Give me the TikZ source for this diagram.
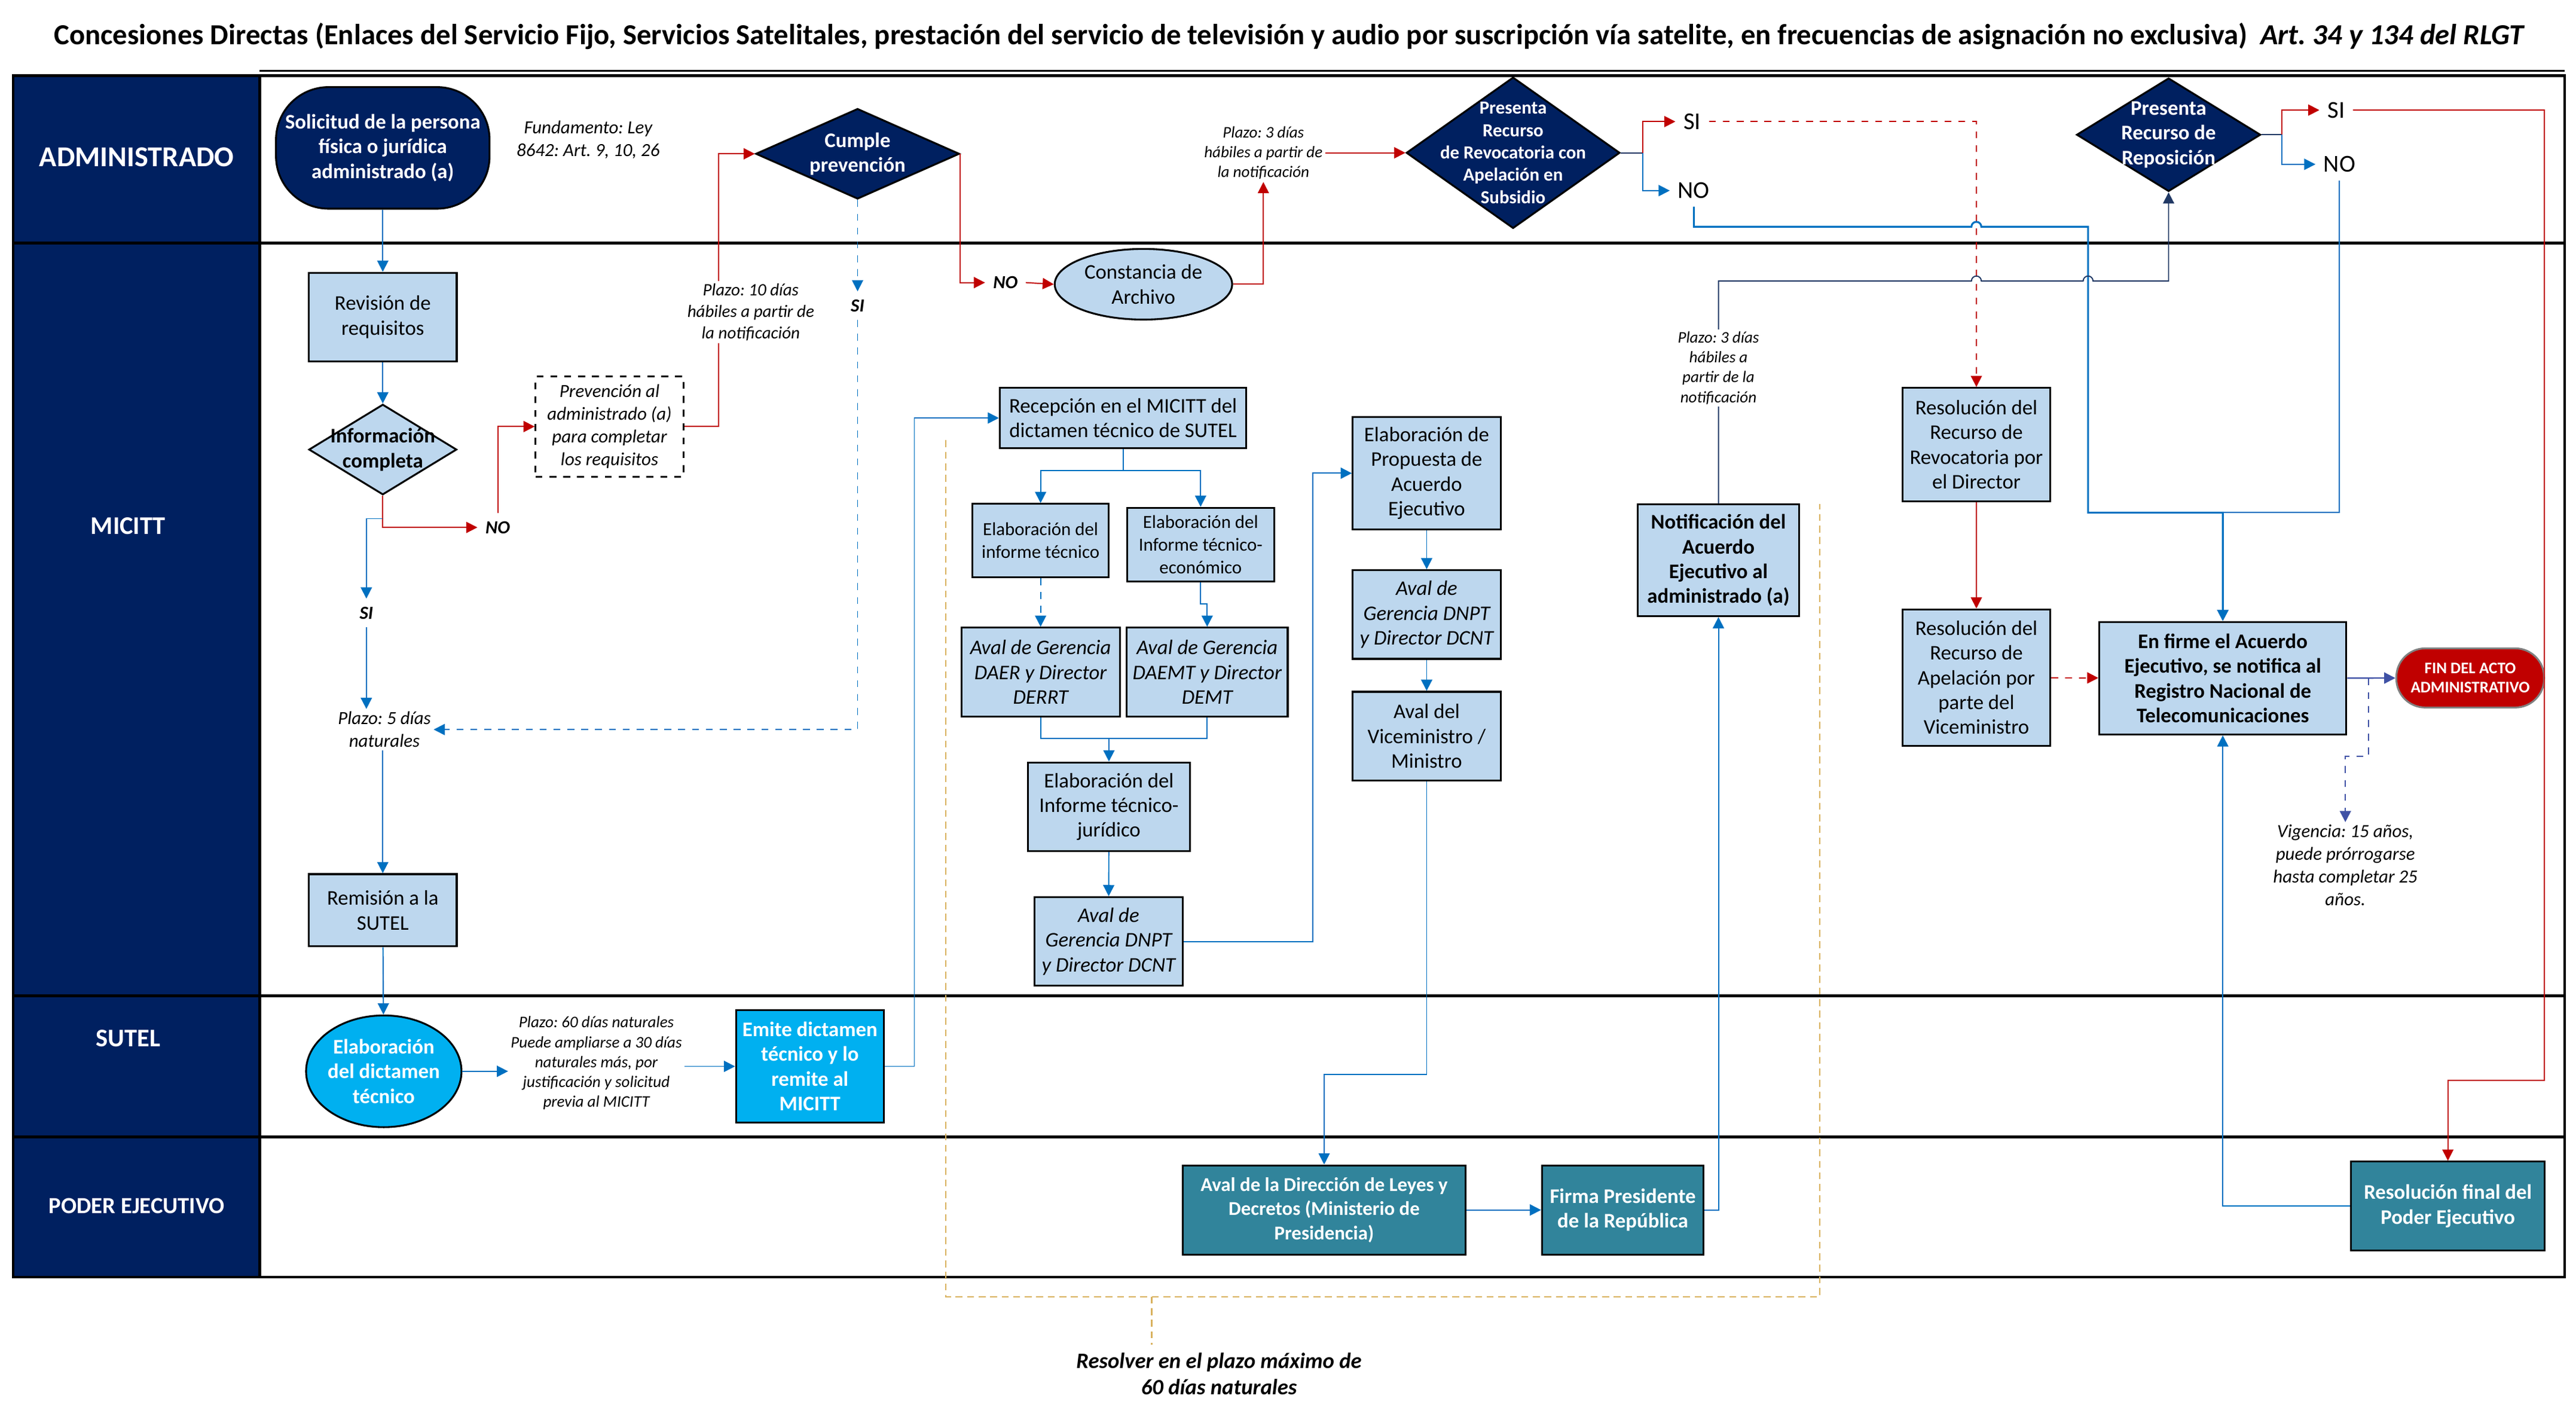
\documentclass[tikz,border=0pt]{standalone}
\usepackage{fontspec}
\setmainfont{Carlito}
\usepackage{xcolor}
\usepackage{tikz}
\usetikzlibrary{arrows.meta}
\usetikzlibrary{shapes}
\usetikzlibrary{positioning}
\frenchspacing
\definecolor{Navy}{HTML}{002060}
\definecolor{LightBlue}{HTML}{BDD7EE}
\definecolor{SkyBlue}{HTML}{00B0F0}
\definecolor{MyTeal}{HTML}{31849B}
\definecolor{LinkBlue}{HTML}{0070C0}
\definecolor{LinkRed}{HTML}{C00000}
\definecolor{DarkLink}{HTML}{203864}
\definecolor{Indigo}{HTML}{3F51A5}
\definecolor{Gold}{HTML}{D9B25F}
\tikzset{
  >={Triangle[length=1.7mm,width=1.7mm]},
  MyBox/.style={
    rectangle, draw=black, thick, fill=LightBlue,
    align=center, inner sep=1pt,
    font=\fontsize{9}{10.7}\selectfont,
  },
  MyBold/.style={MyBox, font=\bfseries\fontsize{9}{10.7}\selectfont},
  MyItalic/.style={MyBox, font=\itshape\fontsize{9}{10.7}\selectfont},
  MyDashBox/.style={MyBox, fill=white, dashed, font=\itshape\fontsize{8}{9.8}\selectfont},
  MyNavyDiamond/.style={diamond, draw=black, thick, fill=Navy, inner sep=0pt},
  MyLightDiamond/.style={diamond, draw=black, thick, fill=LightBlue, inner sep=0pt},
  MyOval/.style={ellipse, draw=black, thick, fill=LightBlue, inner sep=0pt},
  MyNavyText/.style={text=white, align=center, font=\bfseries\fontsize{9}{10.7}\selectfont},
  MyBoldText/.style={align=center, font=\bfseries\fontsize{9}{10.7}\selectfont},
  MyBoxText/.style={align=center, font=\fontsize{9}{10.7}\selectfont},
  MyNote/.style={align=center, fill=white, inner sep=1pt, font=\itshape\fontsize{8}{9.8}\selectfont},
  MySmallNote/.style={MyNote, font=\itshape\fontsize{7}{8.6}\selectfont},
  MyFlag/.style={font=\bfseries\itshape\fontsize{8}{9.6}\selectfont},
  MyAnswer/.style={font=\fontsize{10.5}{12}\selectfont},
  MyLane/.style={text=white, font=\bfseries\fontsize{11}{13}\selectfont},
  MyLink/.style={draw=LinkBlue, line width=0.5pt},
  MyRed/.style={draw=LinkRed, line width=0.5pt},
  MyDark/.style={draw=DarkLink, line width=0.5pt},
  MyIndigo/.style={draw=Indigo, line width=0.6pt},
  MyGold/.style={draw=Gold, line width=0.6pt, dash pattern=on 3pt off 2pt},
}

\begin{document}
\begin{tikzpicture}
\useasboundingbox (0,0) rectangle (39.2,-21.65);
\node[font=\bfseries\fontsize{12.6}{15}\selectfont] (TITLE) at (19.625,-0.55) {Concesiones Directas (Enlaces del Servicio Fijo, Servicios Satelitales, prestación del servicio de televisión y audio por suscripción vía satelite, en frecuencias de asignación no exclusiva)\ \ \textit{Art. 34 y 134 del RLGT}};

\fill[Navy] (0.2,-1.15) rectangle (3.95,-19.43);
\draw[line width=1.2pt] (0.2,-1.15) rectangle (39.025,-19.43);
\draw[line width=0.8pt] (3.95,-1.08) -- (39.025,-1.08);
\foreach \y in {-3.7,-15.15,-17.3} \draw[line width=1.2pt] (0.2,\y) -- (39.025,\y);
\draw[line width=1.2pt] (3.95,-1.15) -- (3.95,-19.43);
\node[MyLane, font=\bfseries\fontsize{12.5}{15}\selectfont] (LaneAdm) at (2.08,-2.39) {ADMINISTRADO};
\node[MyLane] (LaneMic) at (1.95,-8.0) {MICITT};
\node[MyLane] (LaneSut) at (1.95,-15.8) {SUTEL};
\node[MyLane, font=\bfseries\fontsize{10}{12}\selectfont] (LanePod) at (2.08,-18.35) {PODER EJECUTIVO};

\node[MyBold, fill=Navy, text=white, rounded corners=0.8cm, minimum width=3.25cm, minimum height=1.85cm] (SOL) at (5.825,-2.25) {Solicitud de la persona\\física o jurídica\\administrado (a)};
\node[MyNote] (FUND) at (8.95,-2.125) {Fundamento: Ley\\8642: Art. 9, 10, 26};
\node[MyNavyDiamond, minimum width=3.1cm, minimum height=1.375cm, label={[MyNavyText]center:Cumple\\prevención}] (CUMPLE) at (13.05,-2.34) {};
\node[MySmallNote] (PLAZOTRES) at (19.225,-2.325) {Plazo: 3 días\\hábiles a partir de\\la notificación};
\node[MyNavyDiamond, minimum width=3.25cm, minimum height=2.3cm, label={[MyNavyText, font=\bfseries\fontsize{8}{9.7}\selectfont]center:Presenta\\Recurso\\de Revocatoria con\\Apelación en\\Subsidio}] (PRESENTA) at (23.025,-2.325) {};
\node[MyAnswer] (SIUNO) at (25.75,-1.85) {SI};
\node[MyAnswer] (NOUNO) at (25.775,-2.9) {NO};
\node[MyNavyDiamond, minimum width=2.8cm, minimum height=1.725cm, label={[MyNavyText]center:Presenta\\Recurso de\\Reposición}] (REPOS) at (33.0,-2.05) {};
\node[MyAnswer] (SIDOS) at (35.55,-1.675) {SI};
\node[MyAnswer] (NODOS) at (35.6,-2.5) {NO};

\node[MyBox, minimum width=2.25cm, minimum height=1.35cm] (REV) at (5.825,-4.825) {Revisión de\\requisitos};
\node[MyLightDiamond, minimum width=2.25cm, minimum height=1.375cm, label={[MyBoldText]center:Información\\completa}] (INFO) at (5.825,-6.84) {};
\node[MyFlag] (NOINFO) at (7.575,-8.025) {NO};
\node[MyFlag] (SIINFO) at (5.575,-9.325) {SI};
\node[MyNote] (PLAZOCINCO) at (5.85,-11.1) {Plazo: 5 días\\naturales};
\node[MyDashBox, minimum width=2.25cm, minimum height=1.525cm] (PREV) at (9.275,-6.49) {Prevención al\\administrado (a)\\para completar\\los requisitos};
\node[MyFlag] (SICUMPLE) at (13.05,-4.65) {SI};
\node[MyFlag] (NOCUMPLE) at (15.3,-4.3) {NO};
\node[MyOval, minimum width=2.7cm, minimum height=1.075cm, label={[MyBoxText]center:Constancia de\\Archivo}] (CONST) at (17.4,-4.325) {};
\node[MyBox, minimum width=3.75cm, minimum height=0.915cm] (RECEP) at (17.09,-6.36) {Recepción en el MICITT del\\dictamen técnico de SUTEL};
\node[MyBox, font=\fontsize{8}{9.8}\selectfont, minimum width=2.075cm, minimum height=1.115cm] (INFTEC) at (15.835,-8.225) {Elaboración del\\informe técnico};
\node[MyBox, font=\fontsize{8}{9.8}\selectfont, minimum width=2.24cm, minimum height=1.12cm] (INFECO) at (18.27,-8.285) {Elaboración del\\Informe técnico-\\económico};
\node[MyItalic, minimum width=2.41cm, minimum height=1.35cm] (DAER) at (15.835,-10.225) {Aval de Gerencia\\DAER y Director\\DERRT};
\node[MyItalic, minimum width=2.45cm, minimum height=1.35cm] (DAEMT) at (18.37,-10.225) {Aval de Gerencia\\DAEMT y Director\\DEMT};
\node[MyBox, minimum width=2.47cm, minimum height=1.35cm] (INFJUR) at (16.875,-12.275) {Elaboración del\\Informe técnico-\\jurídico};
\node[MyItalic, minimum width=2.25cm, minimum height=1.35cm] (DNPTA) at (16.87,-14.325) {Aval de\\Gerencia DNPT\\y Director DCNT};
\node[MyBox, minimum width=2.25cm, minimum height=1.715cm] (PROP) at (21.71,-7.2) {Elaboración de\\Propuesta de\\Acuerdo\\Ejecutivo};
\node[MyItalic, minimum width=2.25cm, minimum height=1.35cm] (DNPTB) at (21.71,-9.35) {Aval de\\Gerencia DNPT\\y Director DCNT};
\node[MyBox, minimum width=2.25cm, minimum height=1.35cm] (VICE) at (21.71,-11.2) {Aval del\\Viceministro /\\Ministro};
\node[MyBold, minimum width=2.46cm, minimum height=1.7cm] (NOTIF) at (26.15,-8.525) {Notificación del\\Acuerdo\\Ejecutivo al\\administrado (a)};
\node[MyBox, minimum width=2.25cm, minimum height=1.725cm] (RESREV) at (30.075,-6.765) {Resolución del\\Recurso de\\Revocatoria por\\el Director};
\node[MyBox, minimum width=2.25cm, minimum height=2.075cm] (RESAPEL) at (30.075,-10.31) {Resolución del\\Recurso de\\Apelación por\\parte del\\Viceministro};
\node[MyBold, minimum width=3.76cm, minimum height=1.71cm] (FIRME) at (33.825,-10.32) {En firme el Acuerdo\\Ejecutivo, se notifica al\\Registro Nacional de\\Telecomunicaciones};
\node[MyBold, fill=LinkRed, draw=gray, text=white, rounded corners=0.44cm, font=\bfseries\fontsize{7}{8.4}\selectfont, minimum width=2.25cm, minimum height=0.9cm] (FIN) at (37.59,-10.315) {FIN DEL ACTO\\ADMINISTRATIVO};
\node[MyNote] (VIGENCIA) at (35.69,-13.165) {Vigencia: 15 años,\\puede prórrogarse\\hasta completar 25\\años.};
\node[MyBox, minimum width=2.25cm, minimum height=1.1cm] (REMI) at (5.825,-13.85) {Remisión a la\\SUTEL};

\node[MyOval, fill=SkyBlue, minimum width=2.365cm, minimum height=1.7cm, label={[MyNavyText]center:Elaboración\\del dictamen\\técnico}] (ELAB) at (5.84,-16.3) {};
\node[MySmallNote] (PLAZOSESENTA) at (9.075,-16.175) {Plazo: 60 días naturales\\Puede ampliarse a 30 días\\naturales más, por\\justificación y solicitud\\previa al MICITT};
\node[MyBold, fill=SkyBlue, text=white, minimum width=2.25cm, minimum height=1.71cm] (EMITE) at (12.325,-16.225) {Emite dictamen\\técnico y lo\\remite al\\MICITT};

\node[MyBold, fill=MyTeal, text=white, font=\bfseries\fontsize{8.5}{10.5}\selectfont, minimum width=4.31cm, minimum height=1.355cm] (LEYES) at (20.15,-18.41) {Aval de la Dirección de Leyes y\\Decretos (Ministerio de\\Presidencia)};
\node[MyBold, fill=MyTeal, text=white, minimum width=2.46cm, minimum height=1.355cm] (FIRMA) at (24.695,-18.41) {Firma Presidente\\de la República};
\node[MyBold, fill=MyTeal, text=white, minimum width=2.95cm, minimum height=1.35cm] (RESFIN) at (37.25,-18.35) {Resolución final del\\Poder Ejecutivo};
\node[font=\bfseries\itshape\fontsize{9.5}{11.3}\selectfont, align=center] (RESOLVER) at (18.55,-20.9) {Resolver en el plazo máximo de\\60 días naturales};

\draw[MyLink, ->] (SOL) -- (REV);
\draw[MyLink, ->] (REV) -- (INFO);
\draw[MyRed, ->] (INFO.south) |- (NOINFO.west);
\draw[MyLink, ->] ([yshift=-0.35cm]INFO.south) -| (SIINFO.north);
\draw[MyLink, ->] (SIINFO.south) -- (SIINFO.south |- PLAZOCINCO.north);
\draw[MyLink, ->] (REMI.north |- PLAZOCINCO.south) -- (REMI.north);
\draw[MyRed, ->] (NOINFO.north) |- (PREV.west);
\draw[MyRed, ->] (PREV.east) -- ++(0.52,0) |- (CUMPLE.west);
\draw[MyLink, dashed, ->] (CUMPLE.south) -- (SICUMPLE.north);
\draw[MyLink, dashed, ->] (SICUMPLE.south) |- (PLAZOCINCO.east);
\draw[MyRed, ->] (CUMPLE.east) |- (NOCUMPLE.west);
\draw[MyRed, ->] (NOCUMPLE.east) -- (CONST.west);
\draw[MyRed, ->] (CONST.east) -| (PLAZOTRES.south);
\draw[MyRed, ->] (PLAZOTRES.east) -- (PRESENTA.west);
\coordinate (BRUNO) at (25.0,-2.325);
\draw[MyDark] (PRESENTA.east) -- (BRUNO);
\draw[MyRed, ->] (BRUNO) |- (SIUNO.west);
\draw[MyLink, ->] (BRUNO) |- (NOUNO.west);
\draw[MyRed, dashed, ->] (SIUNO.east) -| (RESREV.north);
\coordinate (JUNTA) at (33.825,-7.8);
\draw[MyLink, line width=0.8pt, ->] (NOUNO.south) |- (30.0,-3.45) arc[start angle=180, end angle=0, radius=0.075] -| (31.775,-7.8) -- (JUNTA) -- (FIRME.north);
\draw[MyLink] (NODOS.south) |- (JUNTA);
\coordinate (BRDOS) at (34.725,-2.05);
\draw[MyDark] (REPOS.east) -- (BRDOS);
\draw[MyRed, ->] (BRDOS) |- (SIDOS.west);
\draw[MyLink, ->] (BRDOS) |- (NODOS.west);
\draw[MyRed, ->] (SIDOS.east) -| (38.72,-16.44) -| (RESFIN.north);
\draw[MyDark, ->] (NOTIF.north) |- (30.0,-4.275) arc[start angle=180, end angle=0, radius=0.075] -- (31.7,-4.275) arc[start angle=180, end angle=0, radius=0.075] -| (REPOS.south);
\draw[MyLink, ->] (FIRMA.east) -| (NOTIF.south);
\draw[MyRed, ->] (RESREV) -- (RESAPEL);
\draw[MyRed, dashed, ->] (RESAPEL) -- (FIRME);
\draw[MyIndigo, ->] (FIRME) -- (FIN);
\coordinate (VIGE) at (36.04,-10.32);
\draw[MyIndigo, dashed, ->] (VIGE) -- (36.04,-11.51) -| (VIGENCIA.north);
\draw[MyLink, ->] (RESFIN.west) -| (FIRME.south);
\draw[MyLink, ->] (REMI) -- (ELAB);
\draw[MyLink, ->] (ELAB.east) -- (ELAB.east -| PLAZOSESENTA.west);
\draw[MyLink, ->] (PLAZOSESENTA.east |- EMITE.west) -- (EMITE.west);
\draw[MyLink, ->] (EMITE.east) -- ++(0.45,0) |- (RECEP.west);
\draw[MyLink, ->] (RECEP.south) -- ++(0,-0.33) -| (INFTEC.north);
\draw[MyLink, ->] (RECEP.south) -- ++(0,-0.33) -| (INFECO.north);
\draw[MyLink, dashed, ->] (INFTEC) -- (DAER);
\draw[MyLink, ->] (INFECO.south) -- ++(0,-0.33) -| (DAEMT.north);
\draw[MyLink] (DAER.south) -- ++(0,-0.325) -| (DAEMT.south);
\coordinate (JUNTAJUR) at (16.875,-11.225);
\draw[MyLink, ->] (JUNTAJUR) -- (INFJUR.north);
\draw[MyLink, ->] (INFJUR) -- (DNPTA);
\draw[MyLink, ->] (DNPTA.east) -| (19.975,-7.2) -- (PROP.west);
\draw[MyLink, ->] (PROP) -- (DNPTB);
\draw[MyLink, ->] (DNPTB) -- (VICE);
\draw[MyLink, ->] (VICE.south) |- (20.15,-16.35) -- (LEYES.north);
\draw[MyLink, ->] (LEYES) -- (FIRMA);
\draw[MyGold] (14.39,-6.7) -- (14.39,-19.73) -- (27.69,-19.73) -- (27.69,-7.67);
\coordinate (BRK) at (17.525,-19.73);
\draw[MyGold] (BRK) -- (BRK |- RESOLVER.north);

\node[MyNote, font=\itshape\fontsize{7.5}{9.4}\selectfont] (PLAZODIEZ) at (11.425,-4.75) {Plazo: 10 días\\hábiles a partir de\\la notificación};
\node[MySmallNote] (PLAZOTRESB) at (26.15,-5.6) {Plazo: 3 días\\hábiles a\\partir de la\\notificación};
\end{tikzpicture}
\end{document}
